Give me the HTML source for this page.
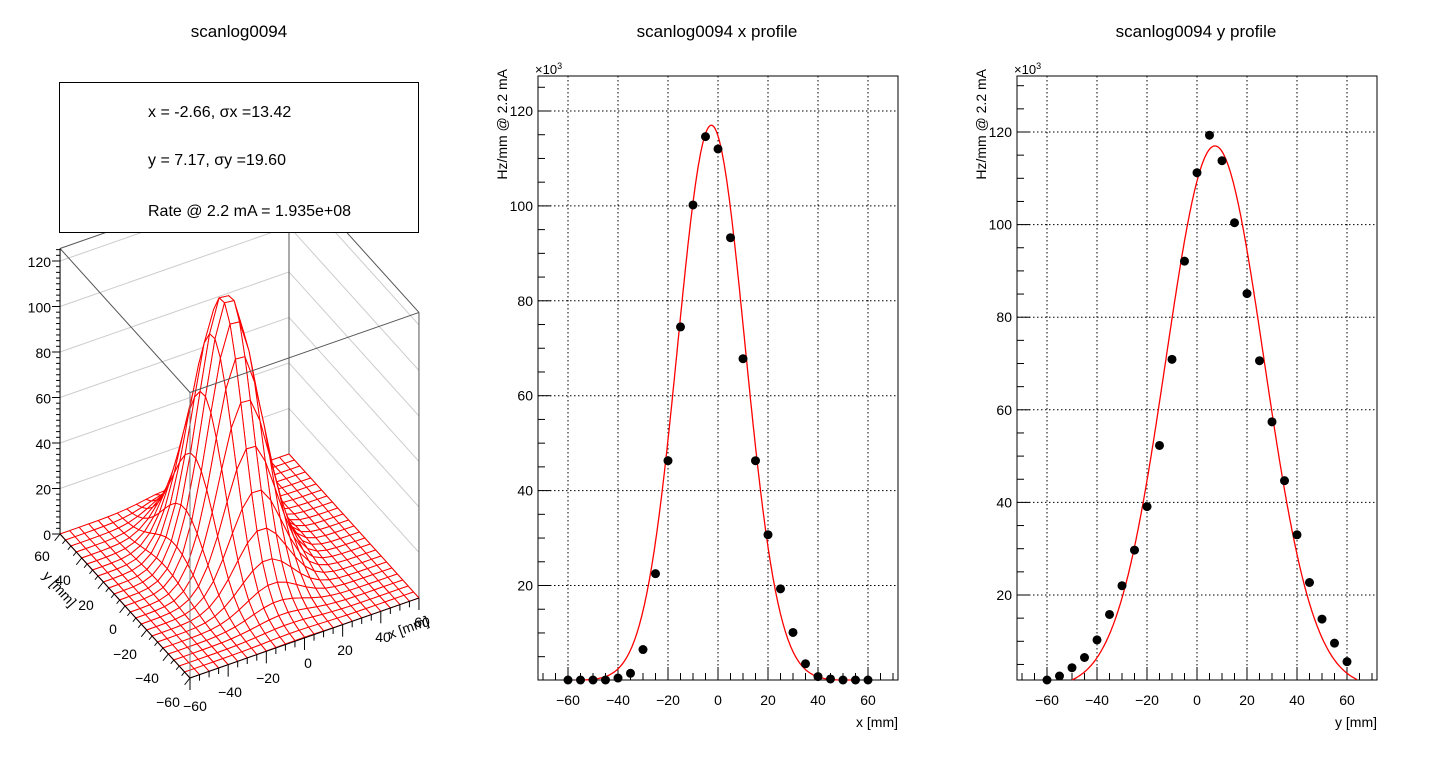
<!DOCTYPE html>
<html><head><meta charset="utf-8"><style>
html,body{margin:0;padding:0;background:#fff;}
svg{display:block;font-family:"Liberation Sans",sans-serif;}
</style></head><body>
<svg id="c" width="1438" height="765" viewBox="0 0 1438 765" xmlns="http://www.w3.org/2000/svg">
<text x="239" y="37" font-size="17" text-anchor="middle">scanlog0094</text>
<text x="717" y="37" font-size="17" text-anchor="middle">scanlog0094 x profile</text>
<text x="1196" y="37" font-size="17" text-anchor="middle">scanlog0094 y profile</text>
<g id="g3d"></g>
<g id="gx"></g>
<g id="gy"></g>
<g>
<rect x="59.5" y="82.5" width="359" height="150" fill="#fff" stroke="#000" stroke-width="1"/>
<text x="148" y="117" font-size="16">x = -2.66, σx =13.42</text>
<text x="148" y="165" font-size="16">y = 7.17, σy =19.60</text>
<text x="148" y="216" font-size="16">Rate @ 2.2 mA = 1.935e+08</text>
</g>
</svg>
<script>
const NS="http://www.w3.org/2000/svg";
// ---- data ----
const xPos=[-60,-55,-50,-45,-40,-35,-30,-25,-20,-15,-10,-5,0,5,10,15,20,25,30,35,40,45,50,55,60];
const xVals=[0,0,0,0,0.5,1.5,6.5,22.5,46.3,74.5,100.2,114.6,112,93.3,67.8,46.3,30.7,19.3,10.1,3.5,0.8,0.3,0,0,0];
const yPos=[-60,-55,-50,-45,-40,-35,-30,-25,-20,-15,-10,-5,0,5,10,15,20,25,30,35,40,45,50,55,60];
const yVals=[1.5,2.5,4.3,6.5,10.3,15.8,22,29.7,39.1,52.3,70.9,92.1,111.2,119.3,113.8,100.4,85.1,70.6,57.4,44.7,33,22.7,14.8,9.6,5.6];
const xFit=[117,-2.66,13.42];   // amplitude, mean, sigma
const yFit=[117,7.17,19.6];
const surfFit=[117,-2.66,13.42,7.17,19.6];
const xTickLabels=["\u221260","\u221240","\u221220","0","20","40","60"];
const yTickLabels=["20","40","60","80","100","120"];

function el(tag,attrs,parent,txt){const e=document.createElementNS(NS,tag);for(const k in attrs)e.setAttribute(k,attrs[k]);if(txt!==undefined)e.textContent=txt;parent.appendChild(e);return e;}

function profile(gid,pos,vals,fit,P,title,fitRange,nm){
  const g=document.getElementById(gid);
  const sx=v=>P.x0+v*P.kx, sy=v=>P.y0-v*P.ky;
  const L=P.left,R=P.right,T=P.top,B=P.bottom;
  for(let v=-60;v<=60;v+=20){const l=el('line',{x1:sx(v),x2:sx(v),y1:T,y2:B,stroke:'#000','stroke-width':1,'stroke-dasharray':'1.5,2.5'},g);
    }
  for(let v=20;v<=120;v+=20){const l=el('line',{x1:L,x2:R,y1:sy(v),y2:sy(v),stroke:'#000','stroke-width':1,'stroke-dasharray':'1.5,2.5'},g);
    }
  const fr=el('rect',{x:L,y:T,width:R-L,height:B-T,fill:'none',stroke:'#000','stroke-width':1},g);
  
  for(let v=-70;v<=70;v+=5){const maj=v%20===0;const l=el('line',{x1:sx(v),x2:sx(v),y1:B,y2:B-(maj?13:7),stroke:'#000','stroke-width':1},g);
    }
  for(let v=0;v<=135;v+=5){const yy=sy(v);if(yy<T||yy>B)continue;const maj=v%20===0;const l=el('line',{x1:L,x2:L+(maj?13:7),y1:yy,y2:yy,stroke:'#000','stroke-width':1},g);
    }
  xTickLabels.forEach((t,i)=>{const v=-60+20*i;const e=el('text',{x:sx(v),y:B+25,'font-size':14,'text-anchor':'middle'},g,t);
    });
  yTickLabels.forEach((t,i)=>{const v=20+20*i;const e=el('text',{x:L-5,y:sy(v)+5,'font-size':14,'text-anchor':'end'},g,t);
    });
  const xt=el('text',{x:R,y:B+47,'font-size':14,'text-anchor':'end'},g,title);
  
  const yt=el('text',{x:0,y:0,'font-size':14,'text-anchor':'end',transform:`translate(${L-31},${T-7}) rotate(-90)`},g,'Hz/mm @ 2.2 mA');
  
  const ex=el('text',{x:L-3,y:T-2,'font-size':13},g,'×10');
  
  el('tspan',{dy:-5,'font-size':9},ex,'3');
  let d='';for(let v=fitRange[0];v<=fitRange[1];v+=0.5){const f=fit[0]*Math.exp(-0.5*((v-fit[1])/fit[2])**2);let yy=Math.min(sy(f),B);d+=(d?'L':'M')+sx(v).toFixed(1)+','+yy.toFixed(1);}
  const fp=el('path',{d:d,fill:'none',stroke:'#f00','stroke-width':1.3},g);
  
  pos.forEach((p,i)=>{const c=el('circle',{cx:sx(p),cy:Math.min(sy(vals[i]),B),r:4.5,fill:'#000'},g);
    });
}
profile('gx',xPos,xVals,xFit,{x0:718,kx:2.5,y0:680.4,ky:4.745,left:538,right:898,top:76,bottom:680},'x [mm]',[-57,55],'x-profile');
profile('gy',yPos,yVals,yFit,{x0:1197,kx:2.5,y0:687.6,ky:4.63,left:1017,right:1377,top:76,bottom:680},'y [mm]',[-50,64],'y-profile');

(function(){
  const g=document.getElementById('g3d');
  const O=[190,678],ex=[1.908,-0.667],ey=[-1.083,-1.2],kz=2.275;
  const P=(x,y,z)=>[O[0]+(x+60)*ex[0]+(y+60)*ey[0],O[1]+(x+60)*ex[1]+(y+60)*ey[1]-z*kz];
  const H=125.5;
  const line=(a,b,st,w,name)=>{const l=el('line',{x1:a[0],y1:a[1],x2:b[0],y2:b[1],stroke:st,'stroke-width':w},g);};
  for(let z=20;z<=120;z+=20){line(P(-60,60,z),P(60,60,z),'#ccc',1,'back-wall-grid');line(P(60,60,z),P(60,-60,z),'#ccc',1,'side-wall-grid');}
  line(P(-60,60,0),P(-60,60,H),'#555',1,'box-edge');
  line(P(60,60,0),P(60,60,H),'#555',1,'box-edge');
  line(P(60,-60,0),P(60,-60,H),'#555',1,'box-edge');
  line(P(-60,60,H),P(60,60,H),'#555',1,'box-edge');
  line(P(60,60,H),P(60,-60,H),'#555',1,'box-edge');
  line(P(-60,60,0),P(60,60,0),'#555',1,'box-edge');
  line(P(60,60,0),P(60,-60,0),'#555',1,'box-edge');
  const f=(x,y)=>surfFit[0]*Math.exp(-0.5*((x-surfFit[1])/surfFit[2])**2-0.5*((y-surfFit[3])/surfFit[4])**2);
  const cells=[];const st=5;
  for(let i=0;i<24;i++)for(let j=0;j<24;j++)cells.push([-60+i*st,-60+j*st]);
  cells.sort((a,b)=>(b[0]+b[1])-(a[0]+a[1]));
  cells.forEach(([x,y])=>{
    const pts=[[x,y],[x+st,y],[x+st,y+st],[x,y+st]].map(([a,b])=>P(a,b,f(a,b)));
    const p=el('polygon',{points:pts.map(q=>q[0].toFixed(1)+','+q[1].toFixed(1)).join(' '),fill:'#fff',stroke:'#f00','stroke-width':1,'stroke-linejoin':'round'},g);
    
  });
  line(P(-60,-60,0),P(-60,-60,H),'#777',1,'box-edge-front');
  line(P(-60,60,H),P(-60,-60,H),'#555',1,'box-edge');
  line(P(-60,-60,H),P(60,-60,H),'#555',1,'box-edge');
  line(P(-60,60,0),P(-60,60,H),'#000',1,'z-axis');
  line(P(-60,60,0),P(-60,-60,0),'#000',1,'y-axis');
  line(P(-60,-60,0),P(60,-60,0),'#000',1,'x-axis');
  for(let z=0;z<=125;z+=2.5){const a=P(-60,60,z);const m=z%20===0;line([a[0]-(m?8:4),a[1]],a,'#000',1,'z-tick');}
  for(let z=0;z<=120;z+=20){const a=P(-60,60,z);const t=el('text',{x:a[0]-9,y:a[1]+6,'font-size':14,'text-anchor':'end'},g,String(z));}
  for(let v=-60;v<=60;v+=5){const m=v%20===0;const a=P(-60,v,0);line(a,[a[0]+(m?-9:-5)*0.6,a[1]+(m?9:5)*0.75],'#000',1,'y-tick');
    const b=P(v,-60,0);line(b,[b[0],b[1]+(m?12:6)],'#000',1,'x-tick');}
  const yl=[[42,556],[63,580],[86,605],[113,629],[125,654],[147,678],[168,702]];
  const xl=[[195,706],[230,692],[268,678],[308,663],[345,650],[383,637],[422,622]];
  const ylab=["60","40","20","0","\u221220","\u221240","\u221260"];
  const xlab=["\u221260","\u221240","\u221220","0","20","40","60"];
  ylab.forEach((t,i)=>{const e=el('text',{x:yl[i][0],y:yl[i][1]+5,'font-size':14,'text-anchor':'middle'},g,t);});
  xlab.forEach((t,i)=>{const e=el('text',{x:xl[i][0],y:xl[i][1]+5,'font-size':14,'text-anchor':'middle'},g,t);});
  const yt=el('text',{x:0,y:0,'font-size':14,'text-anchor':'middle',transform:'translate(56,592) rotate(48)'},g,'y [mm]');
  
  const xt=el('text',{x:0,y:0,'font-size':14,'text-anchor':'middle',transform:'translate(410,632) rotate(-20)'},g,'x [mm]');
  
})();
</script>
</body></html>
